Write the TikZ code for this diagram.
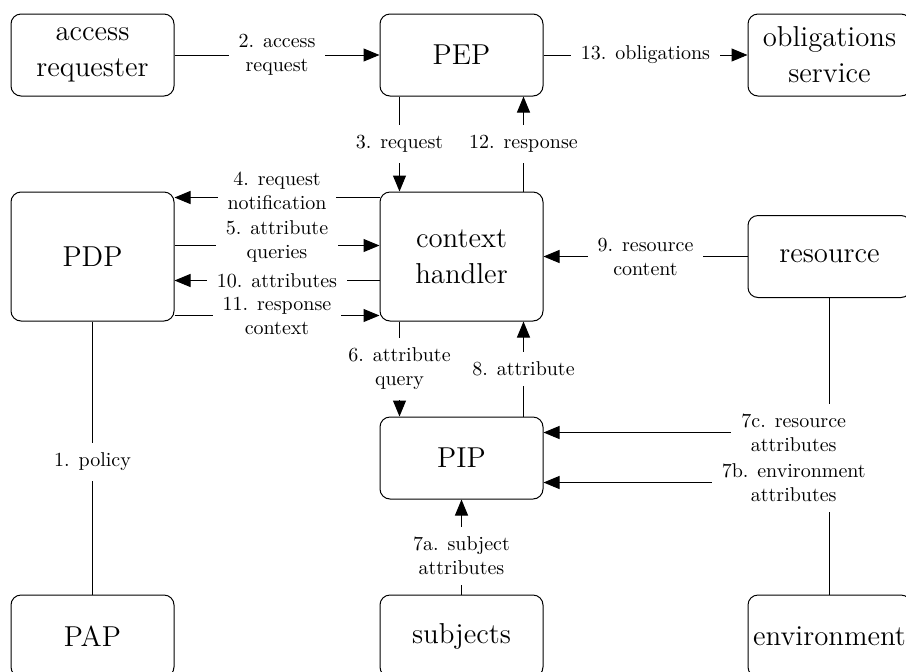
\documentclass[tikz,border=0pt]{standalone}
\usetikzlibrary{arrows.meta}
\begin{document}
\begin{tikzpicture}[x=0.5pt,y=-0.5pt,
  box/.style={draw, rounded corners=5pt, minimum width=81.5pt, minimum height=41pt, align=center, font=\Large, line width=0.5pt, inner sep=2pt},
  tall/.style={box, minimum height=64.5pt},
  lbl/.style={fill=white, align=center, inner sep=5pt, font=\normalsize},
  conn/.style={line width=0.5pt},
  arr/.style={conn, -{Triangle[length=8pt,width=6.5pt]}}]
\useasboundingbox (0,0) rectangle (906,671);
\clip (0,0) rectangle (906,671);
\node[box] (AR) at (92.5,55) {access\\requester};
\node[box] (PEP) at (461.5,55) {PEP};
\node[box] (OS) at (829.5,55) {obligations\\service};
\node[tall] (PDP) at (92.5,256.5) {PDP};
\node[tall] (CH) at (461.5,256.5) {context\\handler};
\node[box] (RES) at (829.5,256.5) {resource};
\node[box] (PIP) at (461.5,458) {PIP};
\node[box] (PAP) at (92.5,636) {PAP};
\node[box] (SUB) at (461.5,636) {subjects};
\node[box] (ENV) at (829.5,636) {environment};

\draw[arr] (AR) -- node[lbl]{2. access\\request} (PEP);
\draw[arr] (PEP) -- node[lbl]{13. obligations} (OS);
\draw[arr] ([xshift=10pt]PEP.south west) -- node[lbl]{3. request} ([xshift=10pt]CH.north west);
\draw[arr] ([xshift=-10pt]CH.north east) -- node[lbl]{12. response} ([xshift=-10pt]PEP.south east);
\draw[arr] ([yshift=-27pt]PDP.north east) -- node[lbl,inner ysep=1pt,yshift=2pt]{5. attribute\\queries} ([yshift=-27pt]CH.north west);
\draw[arr] ([yshift=-3pt]CH.north west) -- node[lbl,inner ysep=1pt,yshift=3.5pt]{4. request\\notification} ([yshift=-3pt]PDP.north east);
\draw[arr] ([yshift=-44.5pt]CH.north west) -- node[lbl,inner ysep=1pt]{10. attributes} ([yshift=-44.5pt]PDP.north east);
\draw[arr] ([yshift=3pt]PDP.south east) -- node[lbl,inner ysep=1pt]{11. response\\context} ([yshift=3pt]CH.south west);
\draw[arr] (RES.west) -- node[lbl]{9. resource\\content} (RES.west -| CH.east);
\draw[arr] ([xshift=10pt]CH.south west) -- node[lbl]{6. attribute\\query} ([xshift=10pt]PIP.north west);
\draw[arr] ([xshift=-10pt]PIP.north east) -- node[lbl]{8. attribute} ([xshift=-10pt]CH.south east);
\draw[arr] (RES.south) |- node[lbl,pos=0.5625]{7c. resource\\attributes} ([yshift=-8pt]PIP.north east);
\draw[arr] (ENV.north) |- node[lbl,pos=0.5625]{7b. environment\\attributes} ([yshift=8.5pt]PIP.south east);
\draw[arr] (SUB) -- node[lbl,pos=0.406]{7a. subject\\attributes} (PIP);
\draw[conn] (PDP) -- node[lbl,pos=0.515]{1. policy} (PAP);
\end{tikzpicture}
\end{document}
